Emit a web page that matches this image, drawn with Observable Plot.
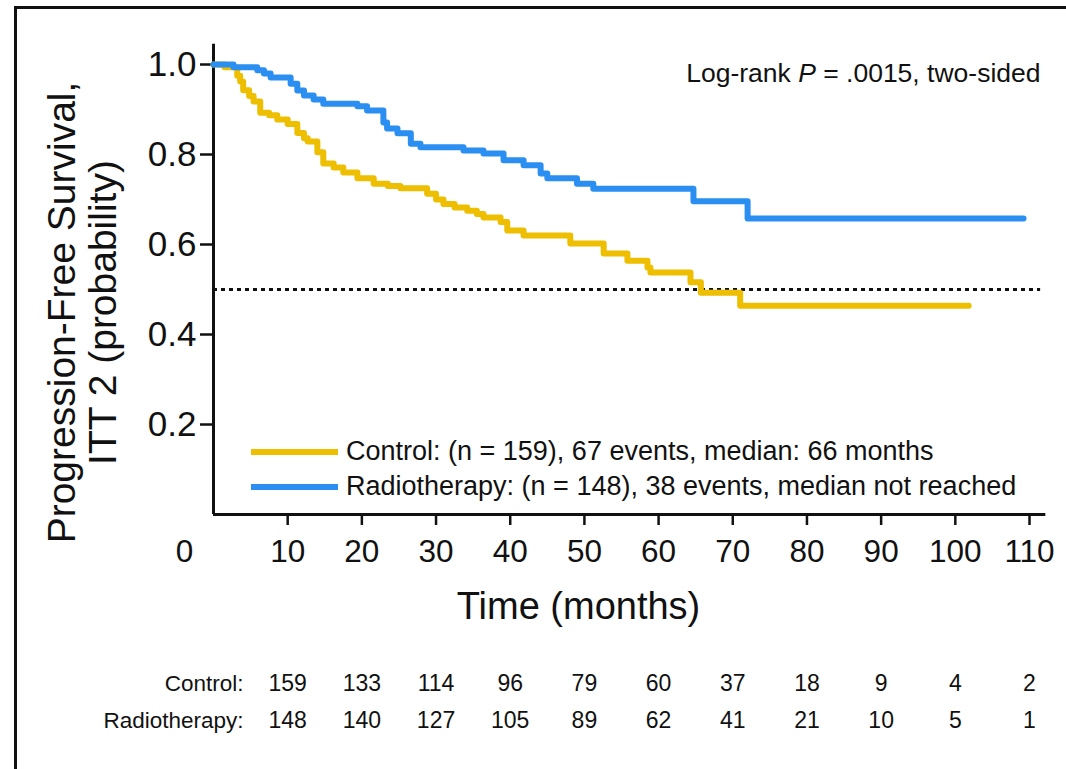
<!DOCTYPE html>
<html>
<head>
<meta charset="utf-8">
<script src="https://cdn.jsdelivr.net/npm/d3@7"></script>
<script src="https://cdn.jsdelivr.net/npm/@observablehq/plot@0.6"></script>
<style>
  html, body { margin: 0; padding: 0; background: #fff; }
  #wrap { position: relative; width: 1066px; height: 769px; overflow: hidden; font-family: "Liberation Sans", Arial, sans-serif; }
  #frame { position: absolute; left: 14px; top: 6px; width: 1100px; height: 800px; border-left: 3px solid #111; border-top: 3px solid #111; box-sizing: border-box; pointer-events: none; }
  #chart { position: absolute; left: 0; top: 0; }
  .leg { position: absolute; left: 251px; display: flex; align-items: center; font-size: 27px; color: #111; white-space: nowrap; }
  .leg .sw { width: 87px; height: 6px; margin-right: 8px; }
</style>
</head>
<body>
<div id="wrap">
  <div id="chart"></div>
  <div id="frame"></div>
  <div class="leg" style="top:436px;"><span class="sw" style="background:#EDBF00"></span><span>Control: (n = 159), 67 events, median: 66 months</span></div>
  <div class="leg" style="top:471px;"><span class="sw" style="background:#2B8FF2"></span><span>Radiotherapy: (n = 148), 38 events, median not reached</span></div>
</div>
<script>
// Kaplan–Meier step points (time in months, survival probability)
const controlTimes = [0, 1.5, 3.2, 3.6, 4.0, 4.8, 5.4, 6.3, 7.5, 8.6, 10.0, 11.3, 12.2, 12.7, 14.0, 14.8, 16.2, 17.5, 19.4, 21.6, 23.5, 25.2, 28.8, 30.0, 31.0, 32.5, 34.2, 35.5, 36.4, 38.7, 39.6, 41.8, 48.1, 52.6, 55.8, 58.5, 58.9, 64.3, 65.7, 71.0, 101.8];
const controlSurv  = [1.0, 0.994, 0.975, 0.962, 0.943, 0.93, 0.918, 0.893, 0.887, 0.878, 0.868, 0.848, 0.836, 0.829, 0.805, 0.78, 0.771, 0.76, 0.747, 0.735, 0.73, 0.725, 0.713, 0.70, 0.69, 0.682, 0.675, 0.668, 0.66, 0.65, 0.631, 0.62, 0.602, 0.58, 0.564, 0.549, 0.538, 0.516, 0.493, 0.464, 0.464];
const rtTimes = [0, 2.7, 5.9, 6.8, 7.7, 10.4, 11.3, 12.2, 13.5, 14.8, 19.4, 20.7, 22.9, 23.4, 24.8, 26.6, 27.9, 33.7, 36.4, 39.1, 41.8, 44.1, 45.0, 49.0, 51.2, 64.7, 72.0, 109.2];
const rtSurv  = [1.0, 0.994, 0.987, 0.98, 0.971, 0.957, 0.942, 0.931, 0.922, 0.913, 0.907, 0.898, 0.871, 0.858, 0.847, 0.824, 0.816, 0.809, 0.802, 0.787, 0.776, 0.758, 0.747, 0.735, 0.724, 0.696, 0.658, 0.658];

const xTicks = [10, 20, 30, 40, 50, 60, 70, 80, 90, 100, 110];
const yTicks = [0.2, 0.4, 0.6, 0.8, 1.0];
const medianLine = 0.5;

const atRiskTimes = [0, 10, 20, 30, 40, 50, 60, 70, 80, 90, 100];
const atRiskControl = [159, 133, 114, 96, 79, 60, 37, 18, 9, 4, 2];
const atRiskRT = [148, 140, 127, 105, 89, 62, 41, 21, 10, 5, 1];

const groupNames = ["Control:", "Radiotherapy:"];
const yTitle = "Progression-Free Survival,\nITT 2 (probability)";
const xTitle = "Time (months)";
const pText = "Log-rank P = .0015, two-sided";

const colControl = "#EDBF00";
const colRT = "#2B8FF2";

const control = controlTimes.map((t, i) => ({t, s: controlSurv[i]}));
const rt = rtTimes.map((t, i) => ({t, s: rtSurv[i]}));
const riskRows = [];
atRiskTimes.forEach((t, i) => {
  riskRows.push({t, n: atRiskControl[i], row: 0});
  riskRows.push({t, n: atRiskRT[i], row: 1});
});
// at-risk columns are printed under the tick positions one interval to the right
const colOffset = 10;
const rowDy = [169, 206];

const font = '"Liberation Sans", Arial, sans-serif';

const tableMarks = [0, 1].map(r => [
  Plot.text([groupNames[r]], {x: () => 0, y: () => 0, text: d => d, textAnchor: "end", lineAnchor: "middle", dx: 30, dy: rowDy[r], fontSize: 22.5}),
  Plot.text(riskRows.filter(d => d.row === r), {x: d => d.t + colOffset, y: () => 0, text: d => String(d.n), textAnchor: "middle", lineAnchor: "middle", dy: rowDy[r], fontSize: 23})
]).flat();

const full = Plot.plot({
  width: 1066,
  height: 769,
  marginLeft: 213,
  marginRight: 37,
  marginTop: 64,
  marginBottom: 255,
  x: {domain: [0, 110]},
  y: {domain: [0, 1]},
  style: {fontFamily: font, color: "#111", background: "transparent", overflow: "visible"},
  marks: [
    Plot.ruleY([medianLine], {x1: 0, x2: 111.5, stroke: "#111", strokeWidth: 3, strokeDasharray: "4,4"}),
    Plot.ruleX([0], {y1: 0, y2: 1.045, stroke: "#111", strokeWidth: 3}),
    Plot.ruleY([0], {x1: 0, x2: 112.2, stroke: "#111", strokeWidth: 3}),
    Plot.axisY({ticks: yTicks, tickSize: 13, tickPadding: 4, tickFormat: d3.format(".1f"), fontSize: 35, strokeWidth: 2.5, label: null}),
    Plot.axisX({ticks: xTicks, tickSize: 11, tickPadding: 14, fontSize: 31.5, strokeWidth: 2.5, label: null}),
    Plot.text([0], {x: d => d, y: d => d, text: d => String(d), dx: -29, dy: 37, fontSize: 31.5, lineAnchor: "middle"}),
    Plot.line(control, {x: "t", y: "s", curve: "step-after", stroke: colControl, strokeWidth: 6}),
    Plot.line(rt, {x: "t", y: "s", curve: "step-after", stroke: colRT, strokeWidth: 6}),
    Plot.text([yTitle], {frameAnchor: "left", text: d => d, rotate: -90, textAnchor: "middle", lineAnchor: "middle", dx: -131, dy: 23, fontSize: 39, lineHeight: 1.05}),
    Plot.text([xTitle], {frameAnchor: "bottom", text: d => d, textAnchor: "middle", lineAnchor: "middle", dx: -43, dy: 92, fontSize: 38}),
    Plot.text([pText], {frameAnchor: "top-right", text: d => d, textAnchor: "end", lineAnchor: "middle", dx: 11, dy: 9, fontSize: 26.5}),
    ...tableMarks
  ]
});

document.getElementById("chart").appendChild(full);

// italicise the P in the log-rank annotation
d3.select(full).selectAll("text").filter(function () { return this.textContent === pText; }).each(function () {
  const el = d3.select(this);
  el.text(null);
  el.append("tspan").text("Log-rank ");
  el.append("tspan").attr("font-style", "italic").text("P");
  el.append("tspan").text(" = .0015, two-sided");
});
</script>
</body>
</html>
